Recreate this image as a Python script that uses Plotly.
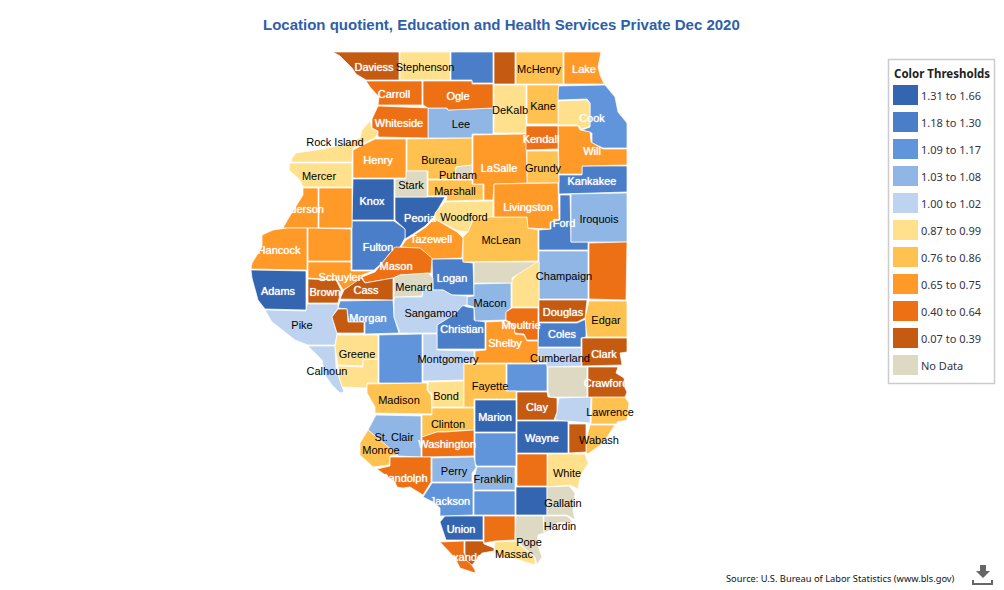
import plotly.graph_objects as go

county_outlines = {
    "Jo Daviess": [(333,52),(399,52),(399,80),(366,80),(356,74),(352,68),(346,62),(340,56)],
    "Stephenson": [(400,52),(450,52),(450,80),(400,80)],
    "Winnebago": [(451,52),(493,52),(493,83),(472,83),(472,80),(451,80)],
    "Boone": [(494,52),(515,52),(515,84),(494,84)],
    "McHenry": [(516,52),(563,52),(563,84),(516,84)],
    "Lake": [(564,52),(601,52),(598,67),(600,75),(604,84),(564,84)],
    "Carroll": [(366,81),(422,81),(422,105),(378,105),(379,97),(370,87)],
    "Ogle": [(423,81),(472,81),(472,84),(493,84),(493,108),(448,110),(447,108),(428,108),(423,105)],
    "DeKalb": [(494,85),(526,85),(526,133),(494,133)],
    "Kane": [(527,85),(559,85),(558,92),(558,124),(527,124)],
    "Cook": [(558,86),(605,85),(615,97),(618,112),(627,123),(627,148),(603,148),(592,143),(592,133),(582,130),(590,127),(590,103),(587,99),(558,100)],
    "DuPage": [(558,101),(586,100),(590,103),(590,126),(582,129),(578,125),(558,125)],
    "Whiteside": [(378,106),(428,108),(428,138),(378,137),(378,131),(372,128),(372,119)],
    "Lee": [(428,108),(447,108),(448,110),(493,108),(493,134),(472,134),(472,138),(428,138)],
    "Rock Island": [(370,121),(372,128),(378,132),(375,138),(353,148),(352,162),(291,162),(292,158),(296,153),(323,149),(340,145),(360,138),(362,130)],
    "Mercer": [(290,163),(352,163),(352,187),(303,187),(300,180),(295,175),(289,170)],
    "Henry": [(375,139),(406,139),(406,178),(353,178),(353,150)],
    "Bureau": [(407,139),(472,138),(472,165),(456,167),(455,179),(428,179),(428,171),(407,171)],
    "LaSalle": [(473,135),(526,134),(527,183),(494,184),(493,200),(484,200),(484,184),(473,184)],
    "Kendall": [(526,126),(558,126),(558,149),(526,150)],
    "Grundy": [(527,151),(558,151),(559,183),(527,183)],
    "Will": [(558,126),(578,126),(580,130),(590,132),(591,142),(603,149),(627,149),(627,165),(582,166),(582,174),(559,174)],
    "Kankakee": [(559,175),(582,175),(582,166),(627,166),(627,192),(559,194)],
    "Putnam": [(456,167),(472,165),(472,179),(455,179)],
    "Marshall": [(428,180),(472,180),(472,184),(483,184),(483,200),(446,201),(447,196),(428,196)],
    "Stark": [(406,171),(427,171),(427,197),(395,197),(395,179),(406,179)],
    "Knox": [(353,179),(394,179),(394,220),(352,220)],
    "Peoria": [(395,197),(445,197),(433,218),(425,226),(410,236),(405,239),(405,229),(395,220)],
    "Woodford": [(445,202),(493,201),(493,217),(473,220),(468,232),(458,231),(435,219),(435,213)],
    "Livingston": [(494,184),(558,183),(559,220),(550,222),(550,229),(528,228),(527,217),(494,217)],
    "Ford": [(560,195),(570,195),(571,242),(588,242),(588,250),(539,250),(539,230),(551,229),(551,222),(560,220)],
    "Iroquois": [(571,194),(627,193),(627,242),(571,242)],
    "Henderson": [(303,188),(318,188),(318,228),(283,228),(288,219),(298,203),(303,195)],
    "Warren": [(319,188),(352,188),(352,228),(319,228)],
    "Hancock": [(287,228),(307,228),(307,270),(251,269),(252,263),(257,255),(262,247),(262,235),(273,230)],
    "McDonough": [(308,228),(351,229),(351,261),(308,261)],
    "Fulton": [(352,221),(394,221),(405,229),(405,238),(400,247),(390,253),(382,263),(374,270),(352,270)],
    "Tazewell": [(401,247),(406,240),(411,237),(426,227),(434,219),(440,222),(457,232),(463,238),(462,258),(431,259),(418,248)],
    "McLean": [(490,217),(527,217),(528,228),(538,230),(538,261),(463,262),(463,237),(468,232),(473,220)],
    "Logan": [(432,259),(463,259),(463,262),(473,263),(474,295),(452,295),(443,290),(433,290)],
    "De Witt": [(474,262),(537,262),(512,278),(512,283),(474,283)],
    "Piatt": [(530,262),(539,262),(539,307),(512,307),(512,280)],
    "Champaign": [(539,251),(588,251),(588,299),(539,299)],
    "Vermilion": [(589,243),(627,242),(626,300),(589,299)],
    "Adams": [(251,270),(306,271),(306,310),(265,309),(258,300),(255,290),(252,278)],
    "Schuyler": [(308,262),(351,262),(351,271),(373,271),(362,275),(360,280),(343,290),(337,280),(308,278)],
    "Brown": [(308,279),(336,280),(341,290),(338,303),(308,303)],
    "Mason": [(362,277),(375,272),(382,263),(390,253),(395,247),(420,248),(432,258),(431,273),(400,275),(393,278),(365,283)],
    "Menard": [(394,278),(400,275),(428,273),(433,278),(433,289),(423,290),(422,296),(394,297)],
    "Cass": [(361,278),(365,283),(393,278),(393,300),(340,299),(344,290)],
    "Morgan": [(340,301),(393,300),(394,317),(399,333),(365,334),(365,322),(349,322),(347,309),(338,308)],
    "Scott": [(338,309),(347,309),(348,322),(364,322),(364,333),(337,333),(332,317)],
    "Pike": [(265,310),(306,311),(307,304),(338,304),(338,308),(332,317),(337,334),(335,345),(308,345),(295,340),(285,332),(272,322)],
    "Calhoun": [(308,346),(335,346),(336,368),(344,392),(340,393),(332,385),(325,375),(322,360)],
    "Greene": [(337,335),(378,335),(378,359),(363,360),(363,366),(338,365),(335,347)],
    "Jersey": [(338,366),(363,367),(363,360),(378,359),(378,383),(367,383),(367,388),(342,387),(339,377)],
    "Macoupin": [(379,335),(422,334),(422,383),(379,383)],
    "Sangamon": [(394,300),(395,297),(422,297),(423,290),(443,290),(452,295),(467,296),(467,305),(462,306),(455,314),(437,325),(437,333),(400,333),(394,317)],
    "Macon": [(474,284),(511,283),(511,308),(506,312),(506,320),(475,321),(474,307),(467,305),(467,297),(474,296)],
    "Moultrie": [(512,308),(538,308),(538,340),(527,340),(524,334),(515,333),(514,325),(506,320),(506,312)],
    "Douglas": [(539,300),(587,300),(585,318),(577,322),(539,322)],
    "Edgar": [(589,301),(627,301),(627,337),(587,337),(585,318)],
    "Christian": [(474,308),(474,320),(485,322),(485,349),(437,349),(437,325),(455,313),(462,305),(467,307)],
    "Coles": [(539,323),(577,323),(586,319),(586,337),(581,338),(581,347),(538,347)],
    "Clark": [(582,338),(627,338),(627,352),(620,353),(622,365),(582,366)],
    "Shelby": [(486,322),(506,321),(514,326),(515,334),(524,335),(527,341),(538,341),(538,363),(475,363),(475,351),(486,350)],
    "Cumberland": [(538,348),(581,348),(582,366),(547,367),(547,363),(538,363)],
    "Montgomery": [(423,334),(437,334),(437,350),(474,351),(474,363),(464,363),(464,380),(423,381)],
    "Effingham": [(507,364),(547,364),(547,391),(507,391)],
    "Jasper": [(548,367),(587,367),(587,397),(550,397),(548,392)],
    "Crawford": [(588,367),(618,367),(616,373),(624,378),(625,388),(627,392),(625,397),(588,397)],
    "Fayette": [(464,364),(506,364),(506,391),(516,391),(516,399),(474,399),(474,407),(464,407)],
    "Bond": [(428,382),(464,381),(464,407),(432,407),(432,394),(428,390)],
    "Madison": [(367,384),(427,383),(427,390),(431,395),(432,414),(375,413),(375,407),(367,393)],
    "Clay": [(517,392),(547,392),(548,397),(557,398),(557,412),(554,420),(517,420)],
    "Richland": [(559,398),(591,397),(590,423),(555,420),(557,412)],
    "Lawrence": [(592,397),(625,397),(629,403),(627,420),(617,422),(617,424),(591,424)],
    "Marion": [(475,400),(516,400),(516,432),(475,432)],
    "Clinton": [(432,408),(474,408),(474,430),(445,432),(437,432),(422,437),(422,415),(432,415)],
    "St. Clair": [(376,415),(421,416),(421,457),(398,456),(368,430)],
    "Monroe": [(368,430),(360,443),(360,455),(373,467),(389,465),(390,456),(398,455)],
    "Washington": [(422,437),(437,432),(445,432),(474,430),(474,456),(422,457)],
    "Wayne": [(517,421),(568,421),(568,453),(517,453)],
    "Edwards": [(569,424),(586,424),(586,452),(569,453)],
    "Wabash": [(590,425),(615,425),(603,443),(588,454),(586,452),(586,440)],
    "Jefferson": [(475,433),(516,433),(516,466),(477,466),(475,463)],
    "Hamilton": [(517,454),(547,454),(547,486),(517,486)],
    "White": [(548,454),(585,454),(588,463),(580,477),(578,489),(570,485),(547,487)],
    "Randolph": [(390,457),(431,457),(431,482),(423,495),(410,487),(403,488),(397,487),(395,482),(377,469),(390,466)],
    "Perry": [(432,458),(474,457),(476,468),(472,473),(472,482),(432,482)],
    "Franklin": [(477,467),(515,467),(515,490),(474,490),(474,478)],
    "Jackson": [(432,483),(473,483),(473,515),(445,516),(440,516),(440,508),(433,502),(423,497)],
    "Williamson": [(474,491),(515,491),(515,515),(474,515)],
    "Saline": [(516,487),(547,487),(547,515),(516,515)],
    "Gallatin": [(547,487),(569,486),(575,493),(573,510),(575,520),(567,515),(547,515)],
    "Union": [(445,516),(483,516),(483,540),(446,540),(440,522)],
    "Johnson": [(484,516),(515,516),(515,540),(495,541),(484,543)],
    "Pope": [(516,516),(543,516),(544,533),(538,535),(537,543),(542,557),(537,565),(535,557),(515,540)],
    "Hardin": [(544,516),(567,516),(573,522),(557,523),(550,530),(544,533)],
    "Alexander": [(440,542),(464,541),(464,553),(475,570),(475,573),(460,568),(455,558),(447,550)],
    "Pulaski": [(465,541),(483,541),(484,544),(494,548),(494,551),(482,553),(472,565),(466,560),(465,553)],
    "Massac": [(495,542),(515,541),(535,557),(535,565),(513,558),(497,557),(494,550)],
}

thresholds = ["1.31 to 1.66", "1.18 to 1.30", "1.09 to 1.17", "1.03 to 1.08", "1.00 to 1.02",
              "0.87 to 0.99", "0.76 to 0.86", "0.65 to 0.75", "0.40 to 0.64", "0.07 to 0.39", "No Data"]
threshold_colors = ["#3465b1", "#4a7ec9", "#6195db", "#8fb6e4", "#bdd3f0",
                    "#ffe08c", "#ffc250", "#ff9928", "#ee7014", "#c55a11", "#ded9c3"]

band_counties = [
    ["Adams", "Knox", "Peoria", "Marion", "Wayne", "Saline", "Union"],
    ["Winnebago", "Fulton", "Kankakee", "Ford", "Logan", "Christian", "Coles"],
    ["Cook", "Morgan", "Macoupin", "Effingham", "Jefferson", "Jackson", "Williamson"],
    ["Lee", "Iroquois", "Champaign", "Macon", "St. Clair", "Perry", "Franklin"],
    ["Pike", "Calhoun", "Sangamon", "Montgomery", "Cumberland", "Richland"],
    ["Stephenson", "DeKalb", "DuPage", "Rock Island", "Mercer", "Woodford", "Piatt", "Greene", "Jersey", "Bond", "White", "Massac"],
    ["McHenry", "Kane", "Grundy", "Bureau", "Marshall", "McLean", "Edgar", "Fayette", "Madison", "Clinton", "Monroe", "Lawrence", "Wabash"],
    ["Lake", "Will", "Henry", "LaSalle", "Livingston", "Henderson", "Warren", "Hancock", "McDonough", "Schuyler", "Tazewell", "Shelby"],
    ["Carroll", "Ogle", "Whiteside", "Kendall", "Vermilion", "Mason", "Moultrie", "Washington", "Randolph", "Hamilton", "Johnson", "Alexander"],
    ["Jo Daviess", "Boone", "Cass", "Brown", "Scott", "Douglas", "Clark", "Crawford", "Clay", "Edwards", "Pulaski"],
    ["Stark", "Putnam", "Menard", "De Witt", "Jasper", "Gallatin", "Hardin", "Pope"],
]

# label text, position and colour as they sit on the map
white_labels = ["Daviess", "Lake", "Carroll", "Ogle", "Cook", "Whiteside", "Kendall", "Will", "Henry", "LaSalle",
                "Kankakee", "Knox", "Peoria", "Livingston", "Ford", "Henderson", "Fulton", "Tazewell", "Hancock",
                "Mason", "Logan", "Schuyler", "Cass", "Brown", "Adams", "Douglas", "Morgan", "Moultrie", "Christian",
                "Coles", "Shelby", "Clark", "Crawford", "Clay", "Marion", "Wayne", "Washington", "Randolph",
                "Jackson", "Union", "Alexander"]
white_label_x = [374, 584, 394, 458, 592, 399, 541, 592, 378, 499, 592, 372, 420, 528, 564, 297, 378, 431, 279,
                 396, 452, 340, 366, 325, 278, 563, 368, 521, 462, 562, 505, 604, 606, 537, 495, 542, 447, 404,
                 450, 461, 462]
white_label_y = [68, 70, 95, 97, 119, 124, 140, 152, 161, 169, 182, 202, 219, 208, 224, 210, 248, 240, 251,
                 267, 279, 278, 291, 293, 292, 313, 319, 326, 330, 335, 344, 355, 384, 408, 418, 439, 445, 479,
                 502, 530, 558]
black_labels = ["Stephenson", "McHenry", "DeKalb", "Kane", "Lee", "Rock Island", "Bureau", "Grundy", "Putnam", "Mercer",
                "Stark", "Marshall", "Woodford", "Iroquois", "McLean", "Champaign", "Menard", "Macon", "Pike",
                "Sangamon", "Edgar", "Greene", "Cumberland", "Montgomery", "Calhoun", "Fayette", "Madison", "Bond",
                "Lawrence", "Clinton", "St. Clair", "Wabash", "Monroe", "White", "Perry", "Franklin", "Gallatin",
                "Hardin", "Pope", "Massac"]
black_label_x = [425, 539, 510, 543, 461, 335, 439, 543, 458, 319, 411, 455, 464, 599, 501, 564, 414, 490, 302,
                 431, 606, 357, 560, 448, 327, 490, 399, 446, 610, 448, 394, 599, 381, 567, 454, 493, 563, 560,
                 529, 514]
black_label_y = [68, 70, 111, 107, 125, 143, 161, 169, 176, 177, 186, 192, 218, 220, 241, 277, 288, 304, 326,
                 314, 321, 355, 359, 360, 372, 387, 401, 397, 413, 425, 438, 441, 451, 474, 472, 480, 504, 527,
                 543, 555]

fig = go.Figure()

for band, counties in enumerate(band_counties):
    for county in counties:
        outline = county_outlines[county]
        fig.add_trace(go.Scatter(
            x=[p[0] for p in outline] + [outline[0][0]],
            y=[p[1] for p in outline] + [outline[0][1]],
            mode="lines", fill="toself", name=county,
            fillcolor=threshold_colors[band],
            line=dict(color="white", width=0.7),
            hoverinfo="name",
        ))

fig.add_trace(go.Scatter(x=black_label_x, y=black_label_y, text=black_labels, mode="text",
                         textposition="middle center", hoverinfo="skip",
                         textfont=dict(family="Liberation Sans", size=11, color="black")))
fig.add_trace(go.Scatter(x=white_label_x, y=white_label_y, text=white_labels, mode="text",
                         textposition="middle center", hoverinfo="skip",
                         textfont=dict(family="Liberation Sans", size=11, color="white",
                                       shadow="0 0 1px white")))

# legend box and swatches
shapes = [dict(type="rect", x0=888.5, x1=994.5, y0=59.5, y1=383.5, line=dict(color="#cccccc", width=1.5), fillcolor="white")]
annotations = [dict(x=891.5, y=73, text="<b>Color Thresholds</b>", xanchor="left", showarrow=False,
                    font=dict(family="Noto Sans", size=11.5, color="#222222"))]
for i, label in enumerate(thresholds):
    shapes.append(dict(type="rect", x0=893, x1=918, y0=85 + 27 * i, y1=105 + 27 * i,
                       line=dict(width=0), fillcolor=threshold_colors[i]))
    annotations.append(dict(x=918.5, y=95 + 27 * i, text=label, xanchor="left", showarrow=False,
                            font=dict(family="Noto Sans", size=11, color="#333344")))

annotations.append(dict(x=501, y=24, text="<b>Location quotient, Education and Health Services Private Dec 2020</b>",
                        showarrow=False, font=dict(family="Liberation Sans", size=15, color="#2f5fa8")))
annotations.append(dict(x=957, y=578, text="Source: U.S. Bureau of Labor Statistics (www.bls.gov)", xanchor="right",
                        showarrow=False, font=dict(family="Noto Sans", size=9.3, color="#111111")))

# download icon
shapes.append(dict(type="path", path="M 980 565 L 986 565 L 986 571 L 990 571 L 983 578 L 976 571 L 980 571 Z",
                   line=dict(width=0), fillcolor="#666666"))
shapes.append(dict(type="path", path="M 972 580 L 974 580 L 974 583 L 991 583 L 991 580 L 993 580 L 993 585 L 972 585 Z",
                   line=dict(width=0), fillcolor="#666666"))

fig.update_layout(
    width=1004, height=590,
    margin=dict(l=0, r=0, t=0, b=0),
    paper_bgcolor="white", plot_bgcolor="white",
    showlegend=False,
    shapes=shapes, annotations=annotations,
    xaxis=dict(range=[0, 1004], visible=False, fixedrange=True),
    yaxis=dict(range=[590, 0], visible=False, fixedrange=True),
)

fig.write_html("out.html", config=dict(displayModeBar=False),
               post_script="document.body.style.margin='0';")
